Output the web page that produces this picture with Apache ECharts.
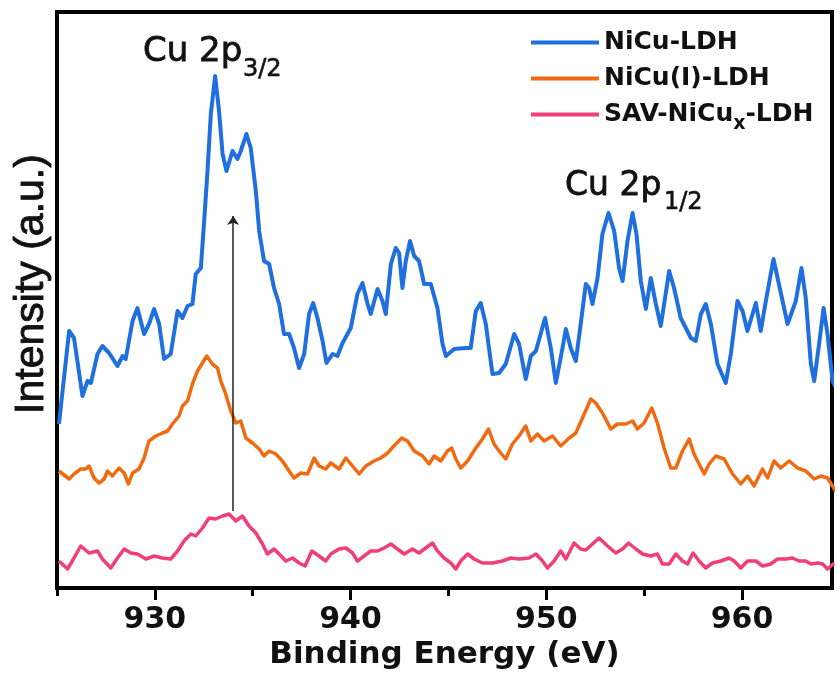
<!DOCTYPE html>
<html>
<head>
<meta charset="utf-8">
<script src="https://cdn.jsdelivr.net/npm/echarts@6/dist/echarts.min.js"></script>
<style>
html, body { margin: 0; padding: 0; background: #fff; }
#chart { width: 840px; height: 681px; }
</style>
</head>
<body>
<div id="chart"></div>
<script>
// XPS Cu 2p spectra (intensity in arbitrary units)
var seriesNames = ['NiCu-LDH', 'NiCu(I)-LDH', 'SAV-NiCux-LDH'];
var seriesColors = ['#1f6fde', '#f06a12', '#f03f78'];

var majorTicks = [930, 940, 950, 960];
var minorTicks = [925, 935, 945, 955];

var nicuEnergy = [925.10,925.62,925.87,926.30,926.56,926.73,927.07,927.32,927.66,928.09,
    928.35,928.51,928.86,929.11,929.45,929.70,929.96,930.22,930.47,930.81,
    931.16,931.41,931.67,931.92,932.09,932.35,932.52,932.69,932.86,933.08,
    933.28,933.46,933.66,933.97,934.22,934.39,934.68,934.90,935.16,935.33,
    935.58,935.84,936.09,936.35,936.60,936.86,937.11,937.37,937.63,937.88,
    938.09,938.31,938.57,938.77,939.08,939.33,939.59,940.01,940.35,940.61,
    940.87,941.03,941.38,941.63,941.80,942.06,942.31,942.48,942.65,942.82,
    943.04,943.25,943.50,943.76,944.10,944.44,944.70,944.87,945.29,945.89,
    946.14,946.40,946.65,946.91,947.25,947.59,947.93,948.36,948.61,948.95,
    949.21,949.47,949.94,950.23,950.49,950.83,951.00,951.25,951.51,951.76,
    952.02,952.19,952.36,952.62,952.87,953.18,953.47,953.72,953.90,954.15,
    954.41,954.61,954.83,955.09,955.34,955.60,955.85,956.28,956.53,956.87,
    957.13,957.39,957.64,957.90,958.15,958.41,958.75,959.17,959.43,959.77,
    960.03,960.28,960.71,960.96,961.22,961.61,961.82,962.33,962.75,963.04,
    963.26,963.52,963.69,963.94,964.17,964.37,964.63,964.88];
var nicuIntensity = [164,257,250,192,207,205,234,242,235,222,
    232,229,267,280,254,264,279,264,229,234,
    277,270,282,284,314,320,367,417,474,512,
    477,434,417,437,429,437,454,440,397,357,
    327,324,300,284,254,254,240,220,234,274,
    285,270,247,225,234,232,245,260,294,305,
    284,274,299,287,274,324,340,335,300,327,
    347,332,327,304,304,280,244,232,239,240,
    240,277,285,264,214,215,224,254,244,209,
    232,237,270,240,205,240,259,240,227,264,
    304,300,284,310,354,375,357,320,307,347,
    375,354,307,279,310,284,262,317,300,270,
    260,250,247,274,284,264,224,205,234,287,
    277,257,285,257,287,329,310,264,287,320,
    290,224,207,244,280,254,207,197];

var nicuIEnergy = [925.10,925.62,925.87,926.21,926.47,926.64,926.89,927.15,927.41,927.58,
    927.83,928.17,928.43,928.65,928.86,929.19,929.45,929.70,930.05,930.39,
    930.65,930.90,931.24,931.41,931.67,931.92,932.18,932.43,932.65,932.94,
    933.20,933.37,933.62,933.88,934.14,934.39,934.65,934.99,935.33,935.58,
    935.84,936.18,936.52,936.86,937.11,937.46,937.80,938.14,938.39,938.73,
    938.99,939.41,939.76,940.10,940.44,940.78,941.20,941.54,941.89,942.31,
    942.62,942.91,943.25,943.68,944.01,944.27,944.61,944.95,945.17,945.38,
    945.63,945.98,946.40,946.74,947.05,947.33,947.59,947.93,948.27,948.61,
    948.95,949.21,949.55,949.89,950.32,950.74,951.17,951.51,951.85,952.28,
    952.53,952.87,953.30,953.64,954.06,954.41,954.66,955.00,955.39,955.68,
    956.02,956.36,956.62,956.96,957.30,957.55,957.81,958.07,958.32,958.66,
    959.09,959.52,959.94,960.28,960.62,961.05,961.31,961.64,961.98,962.41,
    962.84,963.26,963.69,964.03,964.37,964.88];
var nicuIIntensity = [117,109,114,119,119,122,110,105,109,117,
    112,120,115,104,115,119,130,147,152,155,
    157,164,172,182,187,204,217,225,232,224,
    220,207,194,177,165,167,150,145,139,132,
    137,134,127,117,110,115,114,130,122,119,
    125,119,130,122,114,122,127,130,135,144,
    150,147,137,132,124,132,127,137,140,129,
    120,127,140,149,159,144,137,129,144,152,
    162,147,154,147,152,142,150,155,170,189,
    185,175,159,164,164,167,159,165,180,165,
    140,120,120,137,149,134,124,114,124,132,
    129,114,104,112,102,119,110,127,120,127,
    120,117,109,112,110,94];

var savEnergy = [925.10,925.54,925.87,926.21,926.64,927.07,927.32,927.75,928.09,928.43,
    928.77,929.11,929.54,929.96,930.39,930.81,931.16,931.49,931.84,932.09,
    932.43,932.77,933.11,933.46,933.79,934.14,934.48,934.81,935.16,935.50,
    935.75,936.09,936.35,936.69,937.03,937.37,937.68,938.02,938.39,938.73,
    938.99,939.41,939.76,940.10,940.35,940.69,941.03,941.38,941.71,942.06,
    942.40,942.74,943.16,943.50,943.84,944.19,944.44,944.78,945.12,945.38,
    945.63,945.98,946.31,946.74,947.25,947.76,948.19,948.61,949.12,949.47,
    949.81,950.06,950.40,950.74,951.00,951.42,951.76,952.02,952.36,952.70,
    953.13,953.55,953.90,954.20,954.58,954.92,955.34,955.68,955.94,956.28,
    956.62,956.96,957.22,957.50,957.81,958.15,958.49,958.92,959.34,959.60,
    959.94,960.28,960.71,961.05,961.47,961.82,962.24,962.58,962.92,963.26,
    963.52,963.86,964.12,964.37,964.71];
var savIntensity = [27,19,30,42,35,37,29,20,30,39,
    35,34,29,32,30,29,37,47,54,52,
    60,70,69,72,74,67,72,62,55,44,
    34,39,34,27,30,25,22,37,32,27,
    34,39,40,35,27,32,37,37,40,44,
    39,34,39,35,40,45,37,30,25,19,
    27,34,29,25,25,27,30,29,30,34,
    27,20,27,37,29,45,39,38,44,50,
    42,35,39,45,39,34,32,34,24,24,
    34,27,24,35,27,20,25,27,30,27,
    20,27,27,22,24,29,29,30,27,27,
    24,25,24,19,25];

// shift arrow (eV, from / to intensity)
var arrowEnergy = 934.0;
var arrowFrom = 77;
var arrowTo = 372;

function pairs(xs, ys) {
    var out = [];
    for (var i = 0; i < xs.length; i++) {
        out.push([xs[i], ys[i]]);
    }
    return out;
}

var txtFont = 'DejaVu Sans';
var chart = echarts.init(document.getElementById('chart'));

chart.setOption({
    animation: false,
    backgroundColor: '#fff',
    grid: {
        left: 57, right: 8, top: 12, bottom: 93,
        show: true, borderColor: '#000', borderWidth: 4
    },
    legend: {
        orient: 'vertical',
        left: 526, top: 25,
        itemWidth: 68, itemHeight: 4, itemGap: 11,
        icon: 'rect',
        data: seriesNames,
        formatter: function (name) {
            if (name === 'SAV-NiCux-LDH') {
                return '{t|SAV-NiCu}{s|x}{t|-LDH}';
            }
            return '{t|' + name + '}';
        },
        textStyle: {
            rich: {
                t: { fontFamily: txtFont, fontWeight: 'bold', fontSize: 25, color: '#111' },
                s: { fontFamily: txtFont, fontWeight: 'bold', fontSize: 19, color: '#111', padding: [20, 0, 0, 0] }
            }
        }
    },
    xAxis: [{
        type: 'value',
        min: 925, max: 964.6,
        name: 'Binding Energy (eV)',
        nameLocation: 'middle',
        nameGap: 50,
        nameTextStyle: { fontFamily: txtFont, fontWeight: 'bold', fontSize: 31, color: '#111' },
        axisLine: { lineStyle: { color: '#000', width: 4 } },
        axisTick: { customValues: majorTicks, length: 12, lineStyle: { color: '#000', width: 3 } },
        axisLabel: {
            customValues: majorTicks, margin: 17,
            fontFamily: txtFont, fontWeight: 'bold', fontSize: 30, color: '#111'
        },
        splitLine: { show: false }
    }, {
        type: 'value',
        min: 925, max: 964.6,
        position: 'bottom',
        axisLine: { show: false },
        axisTick: { customValues: minorTicks, length: 8, lineStyle: { color: '#000', width: 3 } },
        axisLabel: { show: false },
        splitLine: { show: false }
    }],
    yAxis: {
        type: 'value',
        min: 0, max: 576,
        axisLine: { show: true, lineStyle: { color: '#000', width: 4 } },
        axisTick: { show: false },
        axisLabel: { show: false },
        splitLine: { show: false }
    },
    graphic: [
        {
            type: 'text', x: 32, y: 284, rotation: Math.PI / 2,
            style: {
                text: 'Intensity (a.u.)', fill: '#111', stroke: '#111', lineWidth: 0.9,
                font: 'normal 41px "Liberation Sans"',
                align: 'center', verticalAlign: 'middle'
            }
        },
        {
            type: 'text', x: 143, y: 52,
            style: { text: 'Cu 2p', fill: '#111', stroke: '#111', lineWidth: 0.8, font: 'normal 34px "DejaVu Sans"', align: 'left', verticalAlign: 'middle' }
        },
        {
            type: 'text', x: 243, y: 70,
            style: { text: '3/2', fill: '#111', stroke: '#111', lineWidth: 0.6, font: 'normal 24px "DejaVu Sans"', align: 'left', verticalAlign: 'middle' }
        },
        {
            type: 'text', x: 565, y: 186,
            style: { text: 'Cu 2p', fill: '#111', stroke: '#111', lineWidth: 0.8, font: 'normal 33px "DejaVu Sans"', align: 'left', verticalAlign: 'middle' }
        },
        {
            type: 'text', x: 664, y: 203,
            style: { text: '1/2', fill: '#111', stroke: '#111', lineWidth: 0.6, font: 'normal 24px "DejaVu Sans"', align: 'left', verticalAlign: 'middle' }
        }
    ],
    series: [
        {
            name: seriesNames[0], type: 'line', showSymbol: false, clip: true,
            data: pairs(nicuEnergy, nicuIntensity),
            itemStyle: { color: seriesColors[0] },
            lineStyle: { color: seriesColors[0], width: 4, join: 'round' }
        },
        {
            name: seriesNames[1], type: 'line', showSymbol: false, clip: true,
            data: pairs(nicuIEnergy, nicuIIntensity),
            itemStyle: { color: seriesColors[1] },
            lineStyle: { color: seriesColors[1], width: 3.5, join: 'round' }
        },
        {
            name: seriesNames[2], type: 'line', showSymbol: false, clip: true,
            data: pairs(savEnergy, savIntensity),
            itemStyle: { color: seriesColors[2] },
            lineStyle: { color: seriesColors[2], width: 3.5, join: 'round' },
            markLine: {
                silent: true,
                symbol: ['none', 'arrow'],
                symbolSize: 9,
                label: { show: false },
                lineStyle: { color: '#222', width: 1.5, type: 'solid' },
                data: [[{ coord: [arrowEnergy, arrowFrom] }, { coord: [arrowEnergy, arrowTo] }]]
            }
        }
    ]
});
</script>
</body>
</html>
